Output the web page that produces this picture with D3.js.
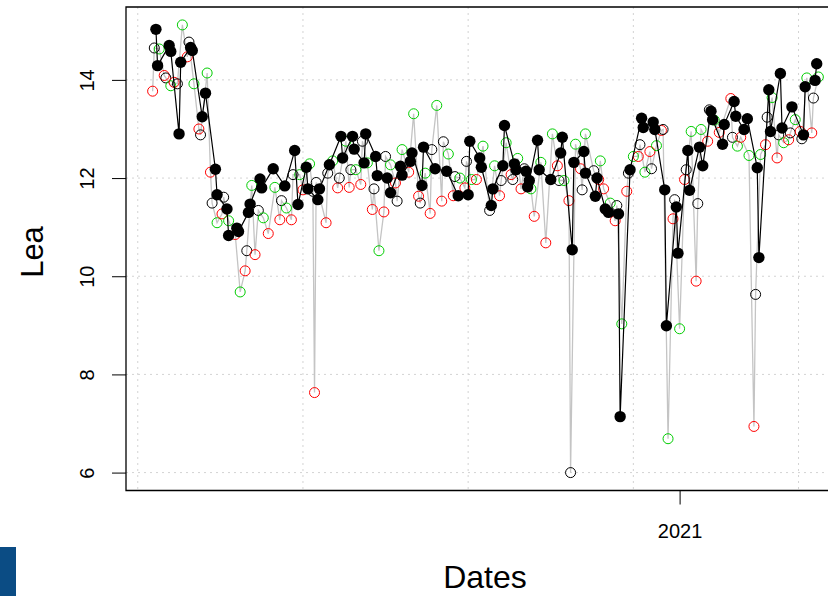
<!DOCTYPE html>
<html>
<head>
<meta charset="utf-8">
<script src="https://cdn.jsdelivr.net/npm/d3@7"></script>
<style>
  html, body { margin: 0; padding: 0; background: #ffffff; }
  svg { display: block; }
  text { font-family: "Liberation Sans", Arial, sans-serif; fill: #000; }
</style>
</head>
<body>
<div id="chart"></div>
<script>
// ---------------- DATA ----------------
const baseDate = "2020-01-01";            // day offsets below count from this date

// Filled black points (black line)
const filledDay = [49,50,57,58,63,64,70,71,77,79,85,86,92,93,98,99,105,106,112,113,
  120,127,133,135,140,141,147,148,154,161,162,168,169,175,176,182,183,189,191,197,
  198,203,204,210,211,218,225,232,238,239,245,246,252,253,259,260,266,267,273,274,
  275,280,281,288,294,295,301,302,308,309,315,316,321,323,329,330,336,343,344,350,
  351,357,358,364,365,371,372,378,380,385,386,392,393,399,400,405,407,413,414,420,
  421,427,428,434,441,442,448,449];
const filledValue = [15.03,14.29,14.70,14.58,12.90,14.36,14.66,14.60,13.25,13.73,12.18,11.66,11.37,10.83,10.98,10.91,11.30,11.47,11.98,11.80,
  12.19,11.84,12.56,11.46,12.22,11.78,11.56,11.78,12.27,12.85,12.41,12.85,12.59,12.31,12.90,12.44,12.05,12.00,11.70,12.24,
  12.06,12.34,12.51,11.85,12.63,12.19,12.14,11.64,11.66,12.75,12.41,12.22,11.44,11.78,12.25,13.07,12.29,12.17,12.14,11.82,
  11.95,12.77,12.17,11.97,12.51,12.83,10.54,12.32,12.54,12.10,11.63,12.00,11.37,11.30,11.27,7.14,12.17,13.22,13.03,13.14,
  12.99,11.76,8.99,11.41,10.47,12.56,11.75,12.63,12.25,13.36,13.19,12.69,13.09,13.56,13.26,12.99,13.21,12.21,10.38,13.80,
  12.95,14.13,13.02,13.45,12.88,13.86,13.99,14.33];

// Open circles (grey line); colour = R palette index (1 black, 2 red, 3 green)
const openDay = [47,48,51,54,55,58,60,62,65,68,69,72,75,76,80,82,83,86,89,90,
  93,97,100,103,104,107,109,111,114,117,121,124,125,128,131,132,136,138,142,144,
  145,146,152,153,156,159,160,164,166,167,170,173,174,177,180,181,184,187,188,191,
  194,195,198,202,205,208,209,212,215,216,219,222,223,226,229,230,233,236,237,240,
  243,247,251,254,257,258,261,264,265,268,270,272,276,278,282,285,289,292,293,296,
  299,300,303,306,307,309,314,317,318,320,324,327,328,331,334,335,338,341,342,345,
  348,349,352,355,356,359,362,363,366,369,370,373,376,377,379,383,384,387,390,397,
  398,401,403,408,411,412,415,418,419,422,425,426,429,432,433,436,439,440,443,446,
  447,450];
const openValue = [13.77,14.65,14.63,14.09,14.04,13.88,13.95,13.92,15.12,14.47,14.77,13.92,13.00,12.88,14.14,12.12,11.49,11.09,11.27,11.61,
  11.13,10.85,9.68,10.11,10.52,11.85,10.44,11.34,11.19,10.87,11.81,11.15,11.54,11.39,11.15,12.07,12.07,11.76,12.29,11.73,
  7.63,11.91,11.09,12.10,12.35,11.80,12.00,12.75,11.81,12.17,12.17,11.87,12.75,12.31,11.36,11.78,10.52,11.31,12.44,12.27,
  11.90,11.53,12.58,12.12,13.31,11.63,11.49,12.10,11.28,12.58,13.48,11.53,12.74,12.49,11.64,12.03,12.00,11.80,12.34,11.97,
  11.97,12.65,11.34,12.25,11.64,11.95,12.72,12.07,11.97,12.40,11.78,12.19,11.78,11.22,12.32,10.68,12.90,12.25,11.95,11.95,
  11.54,6.00,12.69,12.19,11.76,12.90,12.15,11.97,12.35,11.78,11.49,11.13,11.44,9.03,11.73,12.10,12.44,12.44,12.68,12.12,
  12.54,12.19,12.66,12.97,12.99,6.69,11.17,11.56,8.93,11.97,12.17,12.95,9.90,11.48,12.99,12.75,13.39,13.18,12.93,13.62,
  12.83,12.65,12.83,12.46,6.94,9.63,12.48,12.68,13.24,13.64,12.41,12.88,12.72,12.78,12.92,13.19,12.95,12.80,14.04,12.92,
  13.63,14.06];
const openColourIndex = [2,1,3,2,1,3,2,1,3,2,1,3,2,1,3,2,1,3,2,1,
  3,2,3,2,1,3,2,1,3,2,3,2,1,3,2,1,3,2,3,1,
  2,1,2,1,3,2,1,3,2,1,3,2,1,3,2,1,3,2,1,3,
  2,1,3,2,3,2,1,3,2,1,3,2,1,3,2,1,3,2,1,3,
  2,3,1,3,2,1,3,2,1,3,2,1,3,2,3,2,3,2,1,3,
  2,1,3,2,1,3,1,2,3,2,3,2,1,3,2,1,3,2,1,3,
  2,1,3,2,1,3,2,1,3,2,1,3,2,1,3,2,1,3,2,2,
  1,3,2,3,2,1,3,2,1,3,2,1,3,2,1,3,2,1,3,2,
  1,3];

const yTicks = [6, 8, 10, 12, 14];
const xTickDates = ["2021-01-01"];
const xTickLabels = ["2021"];
const gridDates = ["2020-02-08", "2020-05-18", "2020-08-26", "2020-12-04", "2021-03-14"];
const xLabel = "Dates";
const yLabel = "Lea";

// ---------------- DRAWING ----------------
const W = 828, H = 596;
const plot = { left: 126, right: 845, top: 7, bottom: 490.5 };
const palette = { 1: "#000000", 2: "#ff0000", 3: "#00cd00" };

const base = new Date(baseDate + "T00:00:00Z");
const toDate = d => new Date(base.getTime() + d * 86400000);

const filled = filledDay.map((d, i) => ({ date: toDate(d), value: filledValue[i] }));
const open = openDay.map((d, i) => ({ date: toDate(d), value: openValue[i], c: openColourIndex[i] }));

const allDates = filled.concat(open).map(p => p.date.getTime());
const allVals = filled.concat(open).map(p => p.value);
const [dmin, dmax] = d3.extent(allDates);
const [vmin, vmax] = d3.extent(allVals);
const dpad = (dmax - dmin) * 0.04, vpad = (vmax - vmin) * 0.04;

const x = d3.scaleUtc().domain([new Date(dmin - dpad), new Date(dmax + dpad)]).range([plot.left, plot.right]);
const y = d3.scaleLinear().domain([vmin - vpad, vmax + vpad]).range([plot.bottom, plot.top]);

const svg = d3.select("#chart").append("svg").attr("width", W).attr("height", H);
svg.append("rect").attr("width", W).attr("height", H).attr("fill", "#fff");

// grid
const g = svg.append("g");
g.selectAll("line.hg").data(yTicks).join("line")
  .attr("x1", plot.left).attr("x2", plot.right)
  .attr("y1", d => y(d)).attr("y2", d => y(d))
  .attr("stroke", "#d3d3d3").attr("stroke-width", 1).attr("stroke-dasharray", "2,4");
g.selectAll("line.vg").data(gridDates.map(s => new Date(s + "T00:00:00Z"))).join("line")
  .attr("x1", d => x(d)).attr("x2", d => x(d))
  .attr("y1", plot.top).attr("y2", plot.bottom)
  .attr("stroke", "#d3d3d3").attr("stroke-width", 1).attr("stroke-dasharray", "2,4");

// clip
svg.append("clipPath").attr("id", "clip").append("rect")
  .attr("x", plot.left).attr("y", plot.top)
  .attr("width", plot.right - plot.left).attr("height", plot.bottom - plot.top);
const pg = svg.append("g").attr("clip-path", "url(#clip)");

const line = d3.line().x(d => x(d.date)).y(d => y(d.value));

pg.append("path").datum(open).attr("d", line)
  .attr("fill", "none").attr("stroke", "#c4c4c4").attr("stroke-width", 1.3);
pg.selectAll("circle.open").data(open).join("circle")
  .attr("cx", d => x(d.date)).attr("cy", d => y(d.value)).attr("r", 5)
  .attr("fill", "none").attr("stroke", d => palette[d.c]).attr("stroke-width", 1);

pg.append("path").datum(filled).attr("d", line)
  .attr("fill", "none").attr("stroke", "#000").attr("stroke-width", 1.2);
pg.selectAll("circle.filled").data(filled).join("circle")
  .attr("cx", d => x(d.date)).attr("cy", d => y(d.value)).attr("r", 5.7)
  .attr("fill", "#000");

// axes
const yAxis = d3.axisLeft(y).tickValues(yTicks).tickSize(14).tickPadding(0).tickFormat(d3.format("d"));
const ya = svg.append("g").attr("transform", `translate(${plot.left},0)`).call(yAxis);
ya.select(".domain").remove();
ya.selectAll("line").attr("stroke", "#000");
ya.selectAll("text").remove();
ya.selectAll(".tick").append("text")
  .attr("transform", "translate(-32,0) rotate(-90)")
  .attr("text-anchor", "middle")
  .attr("font-size", 20)
  .text(d => d3.format("d")(d));

const xAxis = d3.axisBottom(x).tickValues(xTickDates.map(s => new Date(s + "T00:00:00Z")))
  .tickSize(14).tickFormat((d, i) => xTickLabels[i]);
const xa = svg.append("g").attr("transform", `translate(0,${plot.bottom})`).call(xAxis);
xa.select(".domain").remove();
xa.selectAll("line").attr("stroke", "#000");
xa.selectAll("text").attr("font-size", 20).attr("dy", 0).attr("y", 47);

// box
svg.append("path")
  .attr("d", `M${plot.right},${plot.top}H${plot.left}V${plot.bottom}H${plot.right}`)
  .attr("fill", "none").attr("stroke", "#000").attr("stroke-width", 1.3);

// labels
svg.append("text").attr("x", 485).attr("y", 588).attr("text-anchor", "middle")
  .attr("font-size", 32).text(xLabel);
svg.append("text").attr("transform", "translate(43,252) rotate(-90)")
  .attr("text-anchor", "middle").attr("font-size", 31).text(yLabel);

// blue corner block
svg.append("rect").attr("x", 0).attr("y", 547).attr("width", 16).attr("height", 49).attr("fill", "#0b4c84");
</script>
</body>
</html>
